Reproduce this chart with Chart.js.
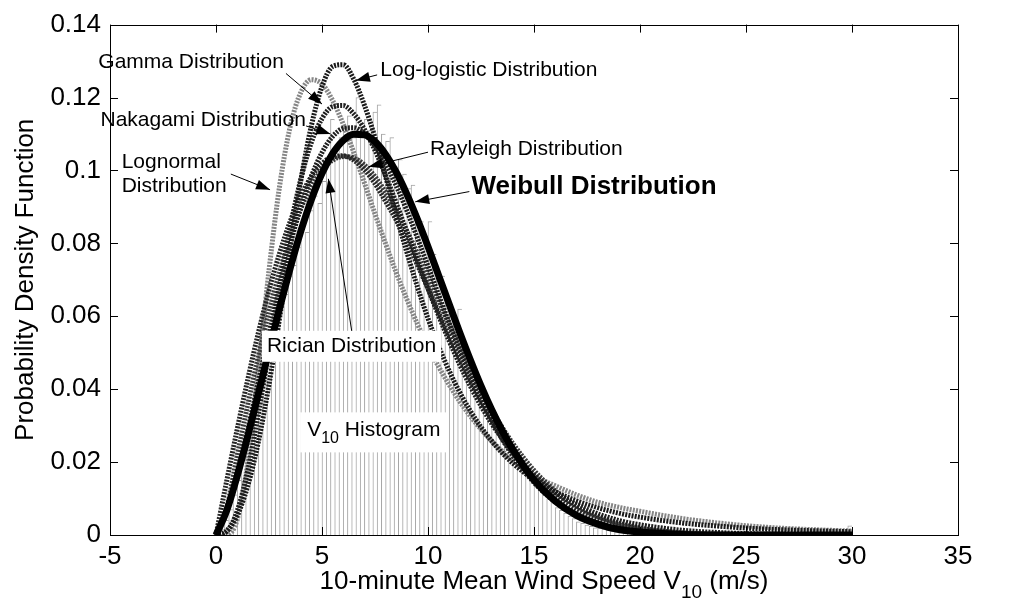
<!DOCTYPE html>
<html>
<head>
<meta charset="utf-8">
<script src="https://cdn.jsdelivr.net/npm/chart.js@4/dist/chart.umd.min.js"></script>
<style>
html,body{margin:0;padding:0;background:#fff;}
#wrap{width:1009px;height:607px;position:relative;}
</style>
</head>
<body>
<div id="wrap"><canvas id="c"></canvas></div>
<script>
// ---------- data ----------
const curveX = [0,0.5,1,1.5,2,2.5,3,3.5,4,4.5,5,5.5,6,6.5,7,7.5,8,8.5,9,9.5,10,10.5,11,11.5,12,12.5,13,13.5,14,15,16,17,18,19,20,22,24,26,28,30];

const weibullPdf = [0,0.0066,0.0162,0.0271,0.0388,0.0506,0.0623,0.0732,0.0833,0.0920,0.0992,0.1046,0.1082,0.1099,0.1098,0.1079,0.1044,0.0995,0.0935,0.0866,0.0791,0.0712,0.0633,0.0555,0.0480,0.0409,0.0344,0.0286,0.0235,0.0151,0.0093,0.0054,0.0030,0.0015,0.0008,0.00015,0.00002,0,0,0];
const rayleighPdf = [0,0.0147,0.0290,0.0427,0.0555,0.0671,0.0773,0.0860,0.0930,0.0983,0.1019,0.1037,0.1040,0.1028,0.1002,0.0964,0.0915,0.0864,0.0804,0.0741,0.0676,0.0610,0.0546,0.0484,0.0425,0.0369,0.0318,0.0272,0.0231,0.0161,0.0109,0.0071,0.0045,0.0028,0.0016,0.0005,0.00015,0.00003,0,0];
const ricianPdf = [0,0.0073,0.0218,0.0358,0.0491,0.0613,0.0722,0.0817,0.0895,0.0956,0.1001,0.1028,0.1038,0.1034,0.1015,0.0983,0.0940,0.0890,0.0834,0.0773,0.0708,0.0643,0.0578,0.0515,0.0454,0.0397,0.0344,0.0295,0.0251,0.0177,0.0121,0.0080,0.0051,0.0032,0.0019,0.0006,0.0002,0.00004,0,0];
const nakagamiPdf = [0,0.0065,0.0168,0.0290,0.0421,0.0553,0.0680,0.0797,0.0899,0.0984,0.1049,0.1093,0.1115,0.1117,0.1100,0.1067,0.1018,0.0958,0.0890,0.0815,0.0738,0.0659,0.0582,0.0508,0.0438,0.0374,0.0316,0.0263,0.0218,0.0144,0.0091,0.0055,0.0032,0.0018,0.0010,0.0003,0.00006,0,0,0];
const gammaPdf = [0,0.0010,0.0066,0.0178,0.0332,0.0507,0.0683,0.0843,0.0976,0.1077,0.1142,0.1175,0.1178,0.1155,0.1113,0.1055,0.0986,0.0911,0.0832,0.0753,0.0676,0.0602,0.0532,0.0467,0.0408,0.0354,0.0306,0.0264,0.0226,0.0164,0.0117,0.0083,0.0058,0.0040,0.0028,0.0013,0.0006,0.00025,0.00011,0.00005];
const lognormalPdf = [0,0.0001,0.0042,0.0200,0.0453,0.0726,0.0957,0.1120,0.1214,0.1249,0.1237,0.1192,0.1127,0.1049,0.0966,0.0881,0.0799,0.0720,0.0647,0.0579,0.0518,0.0462,0.0412,0.0366,0.0326,0.0290,0.0258,0.0230,0.0205,0.0162,0.0135,0.0110,0.0090,0.0076,0.0065,0.0045,0.0031,0.0021,0.0015,0.0011];
const logLogisticPdf = [0,0.0011,0.0054,0.0135,0.0256,0.0413,0.0596,0.0789,0.0972,0.1123,0.1230,0.1285,0.1290,0.1250,0.1179,0.1090,0.0983,0.0877,0.0776,0.0681,0.0594,0.0518,0.0450,0.0391,0.0340,0.0296,0.0258,0.0225,0.0197,0.0152,0.0119,0.0094,0.0075,0.0060,0.0049,0.0033,0.0023,0.0016,0.0012,0.0009];

const binCenters = [0.1,0.3,0.5,0.7,0.9,1.1,1.3,1.5,1.7,1.9,2.1,2.3,2.5,2.7,2.9,3.1,3.3,3.5,3.7,3.9,4.1,4.3,4.5,4.7,4.9,5.1,5.3,5.5,5.7,5.9,6.1,6.3,6.5,6.7,6.9,7.1,7.3,7.5,7.7,7.9,8.1,8.3,8.5,8.7,8.9,9.1,9.3,9.5,9.7,9.9,10.1,10.3,10.5,10.7,10.9,11.1,11.3,11.5,11.7,11.9,12.1,12.3,12.5,12.7,12.9,13.1,13.3,13.5,13.7,13.9,14.1,14.3,14.5,14.7,14.9,15.1,15.3,15.5,15.7,15.9,16.1,16.3,16.5,16.7,16.9,17.1,17.3,17.5,17.7,17.9,18.1,18.3,18.5,18.7,18.9,19.1,19.3,19.5,19.7,19.9,20.1,20.3,20.5,20.7,20.9,21.1,21.3,21.5,21.7,21.9,22.1,22.3,22.5,22.7,22.9,23.1,23.3,23.5,23.7,23.9,24.1,24.3,24.5,24.7,24.9,25.1,25.3,25.5,25.7,25.9,26.1,26.3,26.5,26.7,26.9,27.1,27.3,27.5,27.7,27.9,28.1,28.3,28.5,28.7,28.9,29.1,29.3,29.5,29.7,29.9];
const histogramDensity = [
0.0003,0.0015,0.004,0.007,0.011,
0.015,0.021,0.024,0.030,0.033,
0.039,0.042,0.049,0.052,0.059,
0.063,0.066,0.071,0.074,0.079,
0.084,0.083,0.089,0.093,0.091,
0.097,0.103,0.114,0.106,0.109,
0.112,0.115,0.109,0.120,0.113,
0.114,0.111,0.116,0.118,0.110,
0.108,0.109,0.101,0.103,0.099,
0.095,0.096,0.087,0.086,0.082,
0.086,0.077,0.072,0.071,0.065,
0.061,0.058,0.062,0.053,0.048,
0.045,0.043,0.039,0.036,0.034,
0.031,0.029,0.026,0.024,0.022,
0.021,0.019,0.018,0.017,0.016,
0.015,0.013,0.011,0.010,0.009,
0.0075,0.0068,0.006,0.0052,0.0045,
0.0036,0.0032,0.0027,0.0024,0.002,
0.0018,0.0016,0.0013,0.0011,0.0009,
0.0008,0.0007,0.0006,0.0005,0.0004,
0.0003,0.0003,0.0002,0.0002,0.0002,
0.00015,0.00012,0.0001,0.0001,0.0001,
0.00008,0.00008,0.00008,0.00007,0.00007,
0.00006,0.00006,0.00006,0.00005,0.00005,
0.00005,0.00004,0.00004,0.00004,0.00004,
0.00003,0.00003,0.00003,0.00003,0.00003,
0.00002,0.00002,0.00002,0.00002,0.00002,
0.00002,0.00002,0.00002,0.00002,0.00002,
0.00001,0.00001,0.00001,0.00001,0.00001,
0.00001,0.00001,0.00001,0.00001,0.0025];

const xTickLabels = ['-5','0','5','10','15','20','25','30','35'];
const yTickLabels = ['0','0.02','0.04','0.06','0.08','0.1','0.12','0.14'];

// ---------- styling / layout ----------
const FONT = "'Liberation Sans', Arial, Helvetica, sans-serif";
const pairs = ys => curveX.map((x, i) => ({x, y: ys[i]}));

// annotation positions in data units
const notes = [
  {lines:['Gamma Distribution'], x:-5.55, y:0.1296, size:21, from:[3.3,0.1266], to:[5.0,0.1182]},
  {lines:['Log-logistic Distribution'], x:7.75, y:0.1275, size:21, from:[7.6,0.1262], to:[6.6,0.1247]},
  {lines:['Nakagami Distribution'], x:-5.45, y:0.1138, size:21, from:[4.25,0.1122], to:[5.4,0.1100]},
  {lines:['Lognormal','Distribution'], x:-4.45, y:0.1023, size:21, lh:24, from:[0.7,0.0990], to:[2.55,0.0947]},
  {lines:['Rayleigh Distribution'], x:10.1, y:0.1059, size:21, from:[10.0,0.1050], to:[7.2,0.1010]},
  {lines:['Weibull Distribution'], x:12.05, y:0.0955, size:26, bold:true, from:[11.95,0.0942], to:[9.4,0.0914]},
  {lines:['Rician Distribution'], x:2.4, y:0.0519, size:21, box:true, from:[6.4,0.0560], to:[5.3,0.0977]},
];

function arrow(ctx, x1, y1, x2, y2) {
  ctx.beginPath(); ctx.moveTo(x1, y1); ctx.lineTo(x2, y2); ctx.stroke();
  const a = Math.atan2(y2 - y1, x2 - x1), L = 14, W = 5;
  ctx.beginPath();
  ctx.moveTo(x2, y2);
  ctx.lineTo(x2 - L*Math.cos(a) + W*Math.sin(a), y2 - L*Math.sin(a) - W*Math.cos(a));
  ctx.lineTo(x2 - L*Math.cos(a) - W*Math.sin(a), y2 - L*Math.sin(a) + W*Math.cos(a));
  ctx.closePath(); ctx.fill();
}

function subText(ctx, parts, x, y, size, subSize, subDrop) {
  let cx = x;
  parts.forEach(([t, sub]) => {
    ctx.font = (sub ? subSize : size) + 'px ' + FONT;
    ctx.fillText(t, cx, sub ? y + subDrop : y);
    cx += ctx.measureText(t).width;
  });
  return cx - x;
}
function subWidth(ctx, parts, size, subSize) {
  let w = 0;
  parts.forEach(([t, sub]) => { ctx.font = (sub ? subSize : size) + 'px ' + FONT; w += ctx.measureText(t).width; });
  return w;
}

const decor = {
  id: 'decor',
  afterDatasetsDraw(chart) {
    const {ctx, chartArea: a, scales: {x, y}} = chart;
    ctx.save();
    ctx.strokeStyle = '#000'; ctx.lineWidth = 1;
    ctx.strokeRect(Math.round(a.left) + 0.5, Math.round(a.top) + 0.5, Math.round(a.right - a.left), Math.round(a.bottom - a.top));
    const T = 8;
    ctx.beginPath();
    x.ticks.forEach(t => {
      const px = Math.round(x.getPixelForValue(t.value)) + 0.5;
      ctx.moveTo(px, a.bottom); ctx.lineTo(px, a.bottom - T);
      ctx.moveTo(px, a.top); ctx.lineTo(px, a.top + T);
    });
    y.ticks.forEach(t => {
      const py = Math.round(y.getPixelForValue(t.value)) + 0.5;
      ctx.moveTo(a.left, py); ctx.lineTo(a.left + T, py);
      ctx.moveTo(a.right, py); ctx.lineTo(a.right - T, py);
    });
    ctx.stroke();

    ctx.fillStyle = '#000';
    ctx.textBaseline = 'middle'; ctx.textAlign = 'left';
    const xt = [['10-minute Mean Wind Speed V', false], ['10', true], [' (m/s)', false]];
    const w = subWidth(ctx, xt, 26, 19);
    subText(ctx, xt, (a.left + a.right) / 2 + 10 - w / 2, 582, 26, 19, 11);
    ctx.save();
    ctx.translate(26, (a.top + a.bottom) / 2);
    ctx.rotate(-Math.PI / 2);
    ctx.font = '26px ' + FONT; ctx.textAlign = 'center';
    ctx.fillText('Probability Density Function', 0, 0);
    ctx.restore();

    ctx.lineWidth = 1;
    notes.forEach(n => {
      const px = x.getPixelForValue(n.x), py = y.getPixelForValue(n.y);
      ctx.font = (n.bold ? 'bold ' : '') + n.size + 'px ' + FONT;
      if (n.box) {
        const tw = ctx.measureText(n.lines[0]).width;
        ctx.fillStyle = '#fff';
        ctx.fillRect(px - 5, py - 15, tw + 10, 31);
        ctx.fillStyle = '#000';
      }
      n.lines.forEach((l, i) => ctx.fillText(l, px, py + i * (n.lh || 0)));
      arrow(ctx, x.getPixelForValue(n.from[0]), y.getPixelForValue(n.from[1]),
                 x.getPixelForValue(n.to[0]), y.getPixelForValue(n.to[1]));
    });
    const hx = x.getPixelForValue(4.3), hy = y.getPixelForValue(0.0287);
    const hp = [['V', false], ['10', true], [' Histogram', false]];
    const hw = subWidth(ctx, hp, 21, 16);
    ctx.fillStyle = '#fff';
    ctx.fillRect(hx - 7, hy - 18, hw + 14, 40);
    ctx.fillStyle = '#000';
    subText(ctx, hp, hx, hy, 21, 16, 8);
    ctx.restore();
  }
};

const dashed = (label, ys, color, order, width) => ({
  type: 'line', label, data: pairs(ys), borderColor: color, borderWidth: width || 5,
  borderDash: [2, 1.2], pointRadius: 0, fill: false, cubicInterpolationMode: 'monotone', order
});

new Chart(document.getElementById('c'), {
  type: 'line',
  data: {
    datasets: [
      {type: 'bar', label: 'V10 Histogram', data: binCenters.map((c, i) => ({x: c, y: histogramDensity[i]})),
       backgroundColor: '#ffffff', borderColor: '#a5a5a5', borderWidth: {left: 1, top: 1, right: 0, bottom: 0},
       borderSkipped: false, barPercentage: 1, categoryPercentage: 1, grouped: false, order: 100},
      dashed('Lognormal Distribution', lognormalPdf, '#858585', 7),
      dashed('Rician Distribution', ricianPdf, '#3a3a3a', 6),
      dashed('Rayleigh Distribution', rayleighPdf, '#262626', 5),
      dashed('Gamma Distribution', gammaPdf, '#1e1e1e', 4),
      dashed('Nakagami Distribution', nakagamiPdf, '#1e1e1e', 3),
      dashed('Log-logistic Distribution', logLogisticPdf, '#1a1a1a', 2),
      {type: 'line', label: 'Weibull Distribution', data: pairs(weibullPdf), borderColor: '#000', borderWidth: 7,
       pointRadius: 0, fill: false, cubicInterpolationMode: 'monotone', order: 0}
    ]
  },
  options: {
    responsive: true, maintainAspectRatio: false, animation: false,
    layout: {padding: {left: 0, top: 22, right: 51, bottom: 0}},
    plugins: {legend: {display: false}, tooltip: {enabled: false}},
    scales: {
      x: {type: 'linear', min: -5, max: 35, offset: false,
          grid: {display: false, drawTicks: false}, border: {display: false},
          ticks: {stepSize: 5, padding: 6, color: '#000', font: {family: FONT, size: 26}, maxRotation: 0,
                  callback: v => xTickLabels[Math.round((v + 5) / 5)]},
          afterFit: s => { s.height = 72; }},
      y: {type: 'linear', min: 0, max: 0.14,
          grid: {display: false, drawTicks: false}, border: {display: false},
          ticks: {stepSize: 0.02, padding: 9, color: '#000', font: {family: FONT, size: 26},
                  callback: v => yTickLabels[Math.round(v / 0.02)]},
          afterFit: s => { s.width = 110; }}
    }
  },
  plugins: [decor]
});
</script>
</body>
</html>
